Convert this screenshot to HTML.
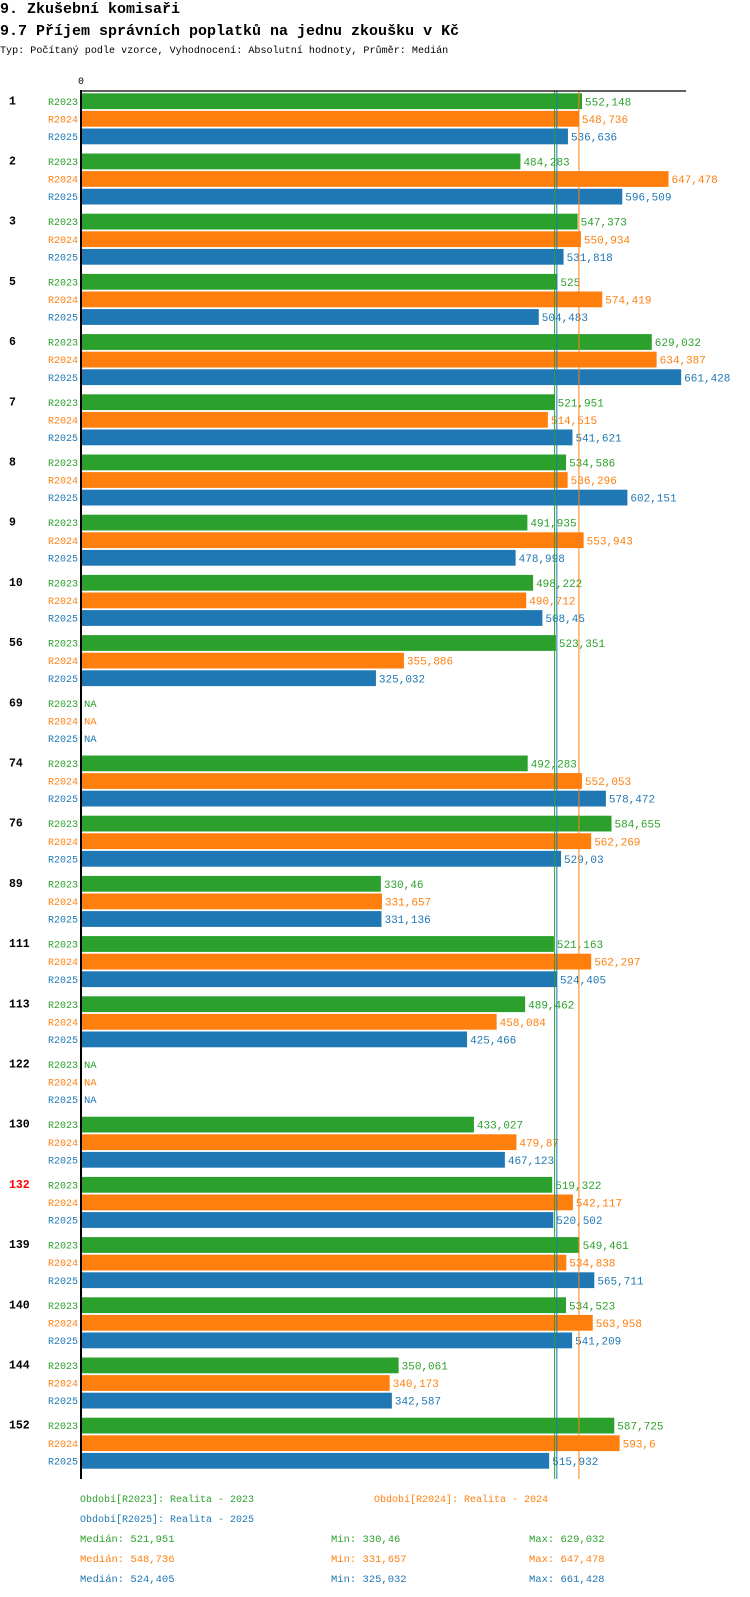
<!DOCTYPE html>
<html><head><meta charset="utf-8"><style>
body{margin:0;background:#fff;width:750px;height:1592px;overflow:hidden;font-family:"Liberation Mono",monospace}
svg text{font-family:"Liberation Mono",monospace}
</style></head><body>
<svg id="c" width="750" height="1592">
<text x="0" y="13" font-size="15" font-weight="bold">9. Zkušební komisaři</text>
<text x="0" y="35" font-size="15" font-weight="bold">9.7 Příjem správních poplatků na jednu zkoušku v Kč</text>
<text x="0" y="53" font-size="10.1">Typ: Počítaný podle vzorce, Vyhodnocení: Absolutní hodnoty, Průměr: Medián</text>
</svg>
<script>
const groups=["1","2","3","5","6","7","8","9","10","56","69","74","76","89","111","113","122","130","132","139","140","144","152"];
const r2023=[552.148,484.283,547.373,525,629.032,521.951,534.586,491.935,498.222,523.351,null,492.283,584.655,330.46,521.163,489.462,null,433.027,519.322,549.461,534.523,350.061,587.725];
const r2024=[548.736,647.478,550.934,574.419,634.387,514.515,536.296,553.943,490.712,355.886,null,552.053,562.269,331.657,562.297,458.084,null,479.87,542.117,534.838,563.958,340.173,593.6];
const r2025=[536.636,596.509,531.818,504.483,661.428,541.621,602.151,478.998,508.45,325.032,null,578.472,529.03,331.136,524.405,425.466,null,467.123,520.502,565.711,541.209,342.587,515.932];
const seriesNames=["R2023","R2024","R2025"];
const medians=[521.951,548.736,524.405];
const mins=[330.46,331.657,325.032];
const maxs=[629.032,647.478,661.428];
const colors=["#2ca02c","#ff7f0e","#1f77b4"];
(function(){
const svg=document.getElementById('c');
const NS="http://www.w3.org/2000/svg";
const x0=81,k=0.9074;
const xs=v=>x0+v*k;
const gy=i=>93.3+i*60.2;
function mk(t,a){const e=document.createElementNS(NS,t);for(const p in a)e.setAttribute(p,a[p]);svg.appendChild(e);return e;}
function fmt(v){return String(v).replace('.',',');}
const series=[r2023,r2024,r2025];
const axisTop=91,axisBot=1479;
groups.forEach((g,i)=>{
  const y=gy(i);
  const gl=mk('text',{x:9,y:y+11,'font-size':11.5,'font-weight':'bold',fill:g==="132"?"#ff0000":"#000"});
  gl.textContent=g;
  
  
  series.forEach((s,j)=>{
    const by=y+j*17.6;
    const sl=mk('text',{x:78,y:by+11.5,'font-size':10,'text-anchor':'end',fill:colors[j]});
    sl.textContent=seriesNames[j];
    
    
    const v=s[i];
    if(v===null){
      const na=mk('text',{x:84,y:by+11.5,'font-size':10.5,fill:colors[j]});
      na.textContent="NA";
      
      
      return;
    }
    const r=mk('rect',{x:x0,y:by,width:xs(v)-x0,height:15.8,fill:colors[j]});
    
    
    const t=mk('text',{x:xs(v)+3,y:by+12,'font-size':11,fill:colors[j]});
    t.textContent=fmt(v);
    
    
  });
});
medians.forEach((m,j)=>{
  const l=mk('line',{x1:xs(m),x2:xs(m),y1:axisTop,y2:axisBot,stroke:colors[j],'stroke-width':1});
  
  
});
const topLine=mk('line',{x1:80,x2:686,y1:axisTop,y2:axisTop,stroke:'#000','stroke-width':1.3});


const ax=mk('line',{x1:81,x2:81,y1:axisTop-1,y2:axisBot,stroke:'#000','stroke-width':2});


const z=mk('text',{x:81,y:84,'font-size':10,'text-anchor':'middle'});
z.textContent="0";


const legPos=[[80,1502],[374,1502],[80,1522]];
const years=["2023","2024","2025"];
seriesNames.forEach((n,j)=>{
  const t=mk('text',{x:legPos[j][0],y:legPos[j][1],'font-size':10,fill:colors[j]});
  t.textContent="Období["+n+"]: Realita - "+years[j];
  
  
  const yy=1542+j*20;
  [[80,"Medián: "+fmt(medians[j]),'median'],[331,"Min: "+fmt(mins[j]),'min'],[529,"Max: "+fmt(maxs[j]),'max']].forEach(([x,s,nm])=>{
    const e=mk('text',{x:x,y:yy,'font-size':10.5,fill:colors[j]});
    e.textContent=s;
    
    
  });
});
})();
</script>
</body></html>
